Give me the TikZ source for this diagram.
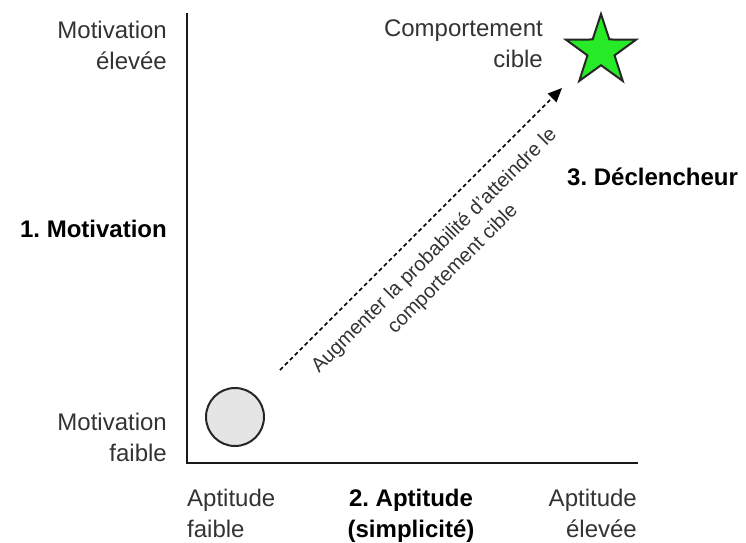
\documentclass[tikz,border=0pt]{standalone}
\usepackage{fontspec}
\setmainfont{Liberation Sans}
\usepackage{tikz}
\usetikzlibrary{shapes.geometric, arrows.meta, positioning, calc}
\frenchspacing

\definecolor{goalgreen}{RGB}{40,235,40}

\begin{document}
\begin{tikzpicture}[
        x=1pt, y=-1pt,
        label/.style={font=\fontsize{24}{31}\selectfont, text=black!80, inner sep=0pt, align=center},
        heading/.style={font=\fontsize{24}{31}\selectfont\bfseries, text=black, inner sep=0pt, align=center},
        axis/.style={line width=2.5pt, black!90},
        arrow/.style={-{Triangle[length=14pt, width=12pt]}, dash pattern=on 4pt off 3pt, line width=1.5pt},
        start/.style={circle, draw=black!85, line width=2pt, fill=black!10, minimum size=58pt, inner sep=0pt},
        goal/.style={star, star points=5, star point ratio=2.6, draw=black!85, line width=2pt, fill=goalgreen, minimum size=74pt, inner sep=0pt}
    ]

    \useasboundingbox (0,0) rectangle (746,542);

    % Axes
    \coordinate (ytop) at (187,13);
    \coordinate (origin) at (187,463);
    \coordinate (xend) at (638,463);
    \draw[axis] (ytop) -- (origin) -- (xend);

    % Nodes
    \node[start] (low) at (235,417) {};
    \node[goal] (target) at (601,51) {};

    \node[label, anchor=north east, align=right] (mothigh) at (167,21) {Motivation\\élevée};
    \node[heading, anchor=base east] (motivation) at (167,237) {1. Motivation};
    \node[label, anchor=north east, align=right] (motlow) at (167,413) {Motivation\\faible};

    \node[label, anchor=north west, align=left] (aptlow) at (187,489) {Aptitude\\faible};
    \node[heading, anchor=north] (aptitude) at (411,489) {2. Aptitude\\(simplicité)};
    \node[label, anchor=north east, align=right] (apthigh) at (637,489) {Aptitude\\élevée};

    \node[label, anchor=north east, align=right] (goaltext) at (543,20) {Comportement\\cible};
    \node[heading, anchor=base west] (trigger) at (567,185) {3. Déclencheur};

    % Arrow
    \coordinate (from) at (280,370);
    \coordinate (tip) at (562,88);
    \draw[arrow] (from) -- node[label, sloped, below=15pt, pos=0.485, font=\fontsize{20}{26}\selectfont] {Augmenter la probabilité d'atteindre le\\comportement cible} (tip);

\end{tikzpicture}
\end{document}
